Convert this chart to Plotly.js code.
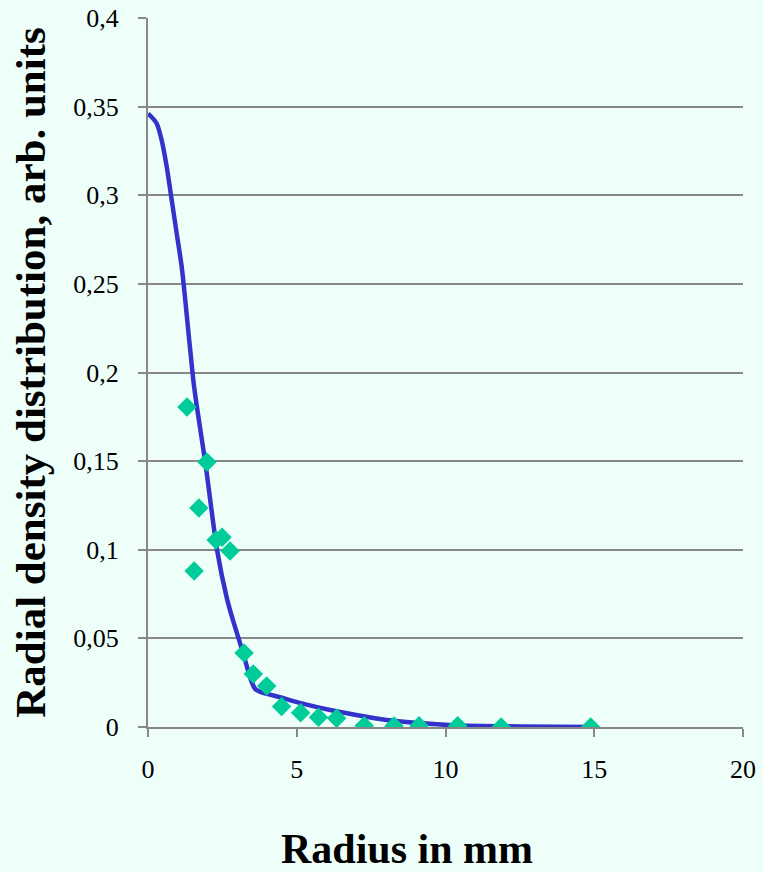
<!DOCTYPE html>
<html>
<head>
<meta charset="utf-8">
<script src="https://cdn.plot.ly/plotly-3.0.1.min.js"></script>
<style>html,body{margin:0;padding:0;background:#EEFFFA;}#chart{width:763px;height:872px;}</style>
</head>
<body>
<div id="chart"></div>
<script>
// Measured points
var pointX = [1.31, 1.98, 1.71, 1.55, 2.29, 2.49, 2.76, 3.23, 3.54, 3.99, 4.49, 5.13, 5.73, 6.34, 7.27, 8.27, 9.11, 10.41, 11.87, 14.88];
var pointY = [0.1805, 0.1495, 0.1236, 0.088, 0.1055, 0.107, 0.0993, 0.0417, 0.0299, 0.0231, 0.0115, 0.0081, 0.0055, 0.0049, 0.0007, 0.0006, 0.0007, 0.0007, 0.0, 0.0];
// Fitted curve
var curveX = [0, 0.07, 0.29, 0.46, 0.63, 0.80, 0.96, 1.13, 1.24, 1.52, 1.64, 1.92, 2.32, 2.66, 2.86, 3.19, 3.45, 3.6, 3.76, 4.5, 5.2, 6.12, 7.0, 8.02, 9.0, 10.25, 12.5, 15.0];
var curveY = [0.346, 0.345, 0.3406, 0.331, 0.316, 0.297, 0.279, 0.260, 0.243, 0.196, 0.181, 0.150, 0.100, 0.072, 0.060, 0.042, 0.027, 0.0215, 0.020, 0.0165, 0.0132, 0.0096, 0.0068, 0.004, 0.0024, 0.001, 0.0003, 0.0];
var yTickVals = [0, 0.05, 0.1, 0.15, 0.2, 0.25, 0.3, 0.35, 0.4];
var yTickText = ["0", "0,05", "0,1", "0,15", "0,2", "0,25", "0,3", "0,35", "0,4"];
var xTickVals = [0, 5, 10, 15, 20];
var xTickText = ["0", "5", "10", "15", "20"];
var xTitle = 'Radius in mm';
var yTitle = 'Radial density distribution, arb. units';

var serif = "'Liberation Serif', 'Times New Roman', serif";
var traces = [
  {x: curveX, y: curveY, mode: 'lines', type: 'scatter',
   line: {color: '#3333CC', width: 4.5, shape: 'spline', smoothing: 0.6}, hoverinfo: 'skip'},
  {x: pointX, y: pointY, mode: 'markers', type: 'scatter',
   marker: {symbol: 'diamond', size: 15, color: '#00CC99'}}
];
var layout = {
  width: 763, height: 872,
  paper_bgcolor: '#EEFFFA', plot_bgcolor: '#EEFFFA',
  showlegend: false,
  margin: {l: 148, r: 20, t: 18, b: 145},
  font: {family: serif, color: '#000000', size: 26},
  xaxis: {
    range: [0, 20], tickvals: xTickVals, ticktext: xTickText,
    showgrid: false, zeroline: false, showline: true, linecolor: '#888888', linewidth: 2,
    ticks: 'outside', ticklen: 8, tickcolor: '#888888', tickwidth: 2,
    tickfont: {family: serif, size: 26}, ticklabelstandoff: 10
  },
  yaxis: {
    range: [0, 0.4], tickvals: yTickVals, ticktext: yTickText,
    showgrid: true, gridcolor: '#888888', gridwidth: 2, zeroline: false,
    showline: true, linecolor: '#888888', linewidth: 2,
    ticks: 'outside', ticklen: 8, tickcolor: '#888888', tickwidth: 2,
    tickfont: {family: serif, size: 26}, ticklabelstandoff: 14,
    title: {text: yTitle, font: {family: serif, size: 43, weight: 'bold'}, standoff: 14}
  },
  annotations: [{
    text: xTitle, xref: 'paper', yref: 'paper', x: 0.435, y: 0,
    xanchor: 'center', yanchor: 'middle', yshift: -122, showarrow: false,
    font: {family: serif, size: 42, weight: 'bold', color: '#000000'}
  }]
};
Plotly.newPlot('chart', traces, layout, {displayModeBar: false, staticPlot: true});
</script>
</body>
</html>
